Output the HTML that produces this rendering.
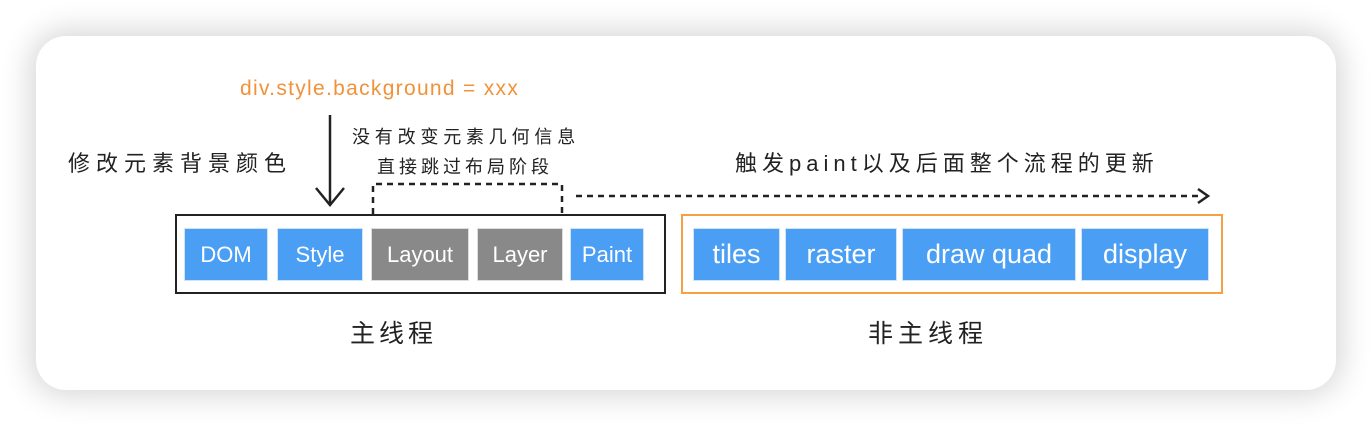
<!DOCTYPE html>
<html><head><meta charset="utf-8"><style>
html,body{margin:0;padding:0;background:#fff;}
body{width:1372px;height:426px;position:relative;overflow:hidden;font-family:"Liberation Sans","Noto Sans CJK SC",sans-serif;}
.card{position:absolute;left:36px;top:36px;width:1300px;height:354px;border-radius:30px;background:#fff;box-shadow:0 0 30px 6px rgba(0,0,0,0.16);}
.b{position:absolute;color:#fff;font-size:22px;display:flex;align-items:center;justify-content:center;box-sizing:border-box;border:1px solid #cfe3fb;}
.bl{background:#4a9ff5;}
.gr{background:#898989;border-color:#ddd;}
.t{position:absolute;white-space:nowrap;color:#222;}
</style></head><body>
<div class="card"></div>
<div style="position:absolute;left:175px;top:214px;width:487px;height:76px;border:2px solid #222;"></div>
<div style="position:absolute;left:681px;top:214px;width:538px;height:76px;border:2px solid #f4a043;"></div>
<div class="b bl" style="left:184px;top:228px;width:84px;height:53px;">DOM</div>
<div class="b bl" style="left:277px;top:228px;width:86px;height:53px;">Style</div>
<div class="b gr" style="left:371px;top:228px;width:98px;height:53px;">Layout</div>
<div class="b gr" style="left:477px;top:228px;width:86px;height:53px;">Layer</div>
<div class="b bl" style="left:570px;top:228px;width:74px;height:53px;">Paint</div>
<div class="b bl" style="left:693px;top:228px;width:87px;height:53px;font-size:27px;">tiles</div>
<div class="b bl" style="left:785px;top:228px;width:112px;height:53px;font-size:27px;">raster</div>
<div class="b bl" style="left:902px;top:228px;width:174px;height:53px;font-size:27px;">draw quad</div>
<div class="b bl" style="left:1081px;top:228px;width:128px;height:53px;font-size:27px;">display</div>
<svg width="1372" height="426" style="position:absolute;left:0;top:0">
<g stroke="#222" stroke-width="2.5" fill="none">
<line x1="330" y1="115" x2="330" y2="205"/>
<polyline points="316,188 330,205 344,188"/>
<polyline stroke-dasharray="6,5" points="373,214 373,184 562,184 562,214"/>
<line stroke-dasharray="6,5" x1="576" y1="196" x2="1202" y2="196"/>
<polyline points="1198,189 1208,196 1198,203"/>
</g>
</svg>
<div class="t" style="left:240px;top:77px;font-size:21px;letter-spacing:1.3px;color:#f0923a;">div.style.background = xxx</div>
<div class="t" style="left:68px;top:146px;font-size:22px;letter-spacing:6px;">修改元素背景颜色</div>
<div class="t" style="left:352px;top:123px;font-size:18px;letter-spacing:4.8px;">没有改变元素几何信息</div>
<div class="t" style="left:377px;top:153px;font-size:18px;letter-spacing:4px;">直接跳过布局阶段</div>
<div class="t" style="left:735px;top:146px;font-size:22px;letter-spacing:5px;">触发paint以及后面整个流程的更新</div>
<div class="t" style="left:350px;top:314px;font-size:25px;letter-spacing:4px;">主线程</div>
<div class="t" style="left:868px;top:314px;font-size:25px;letter-spacing:5px;">非主线程</div>
</body></html>
